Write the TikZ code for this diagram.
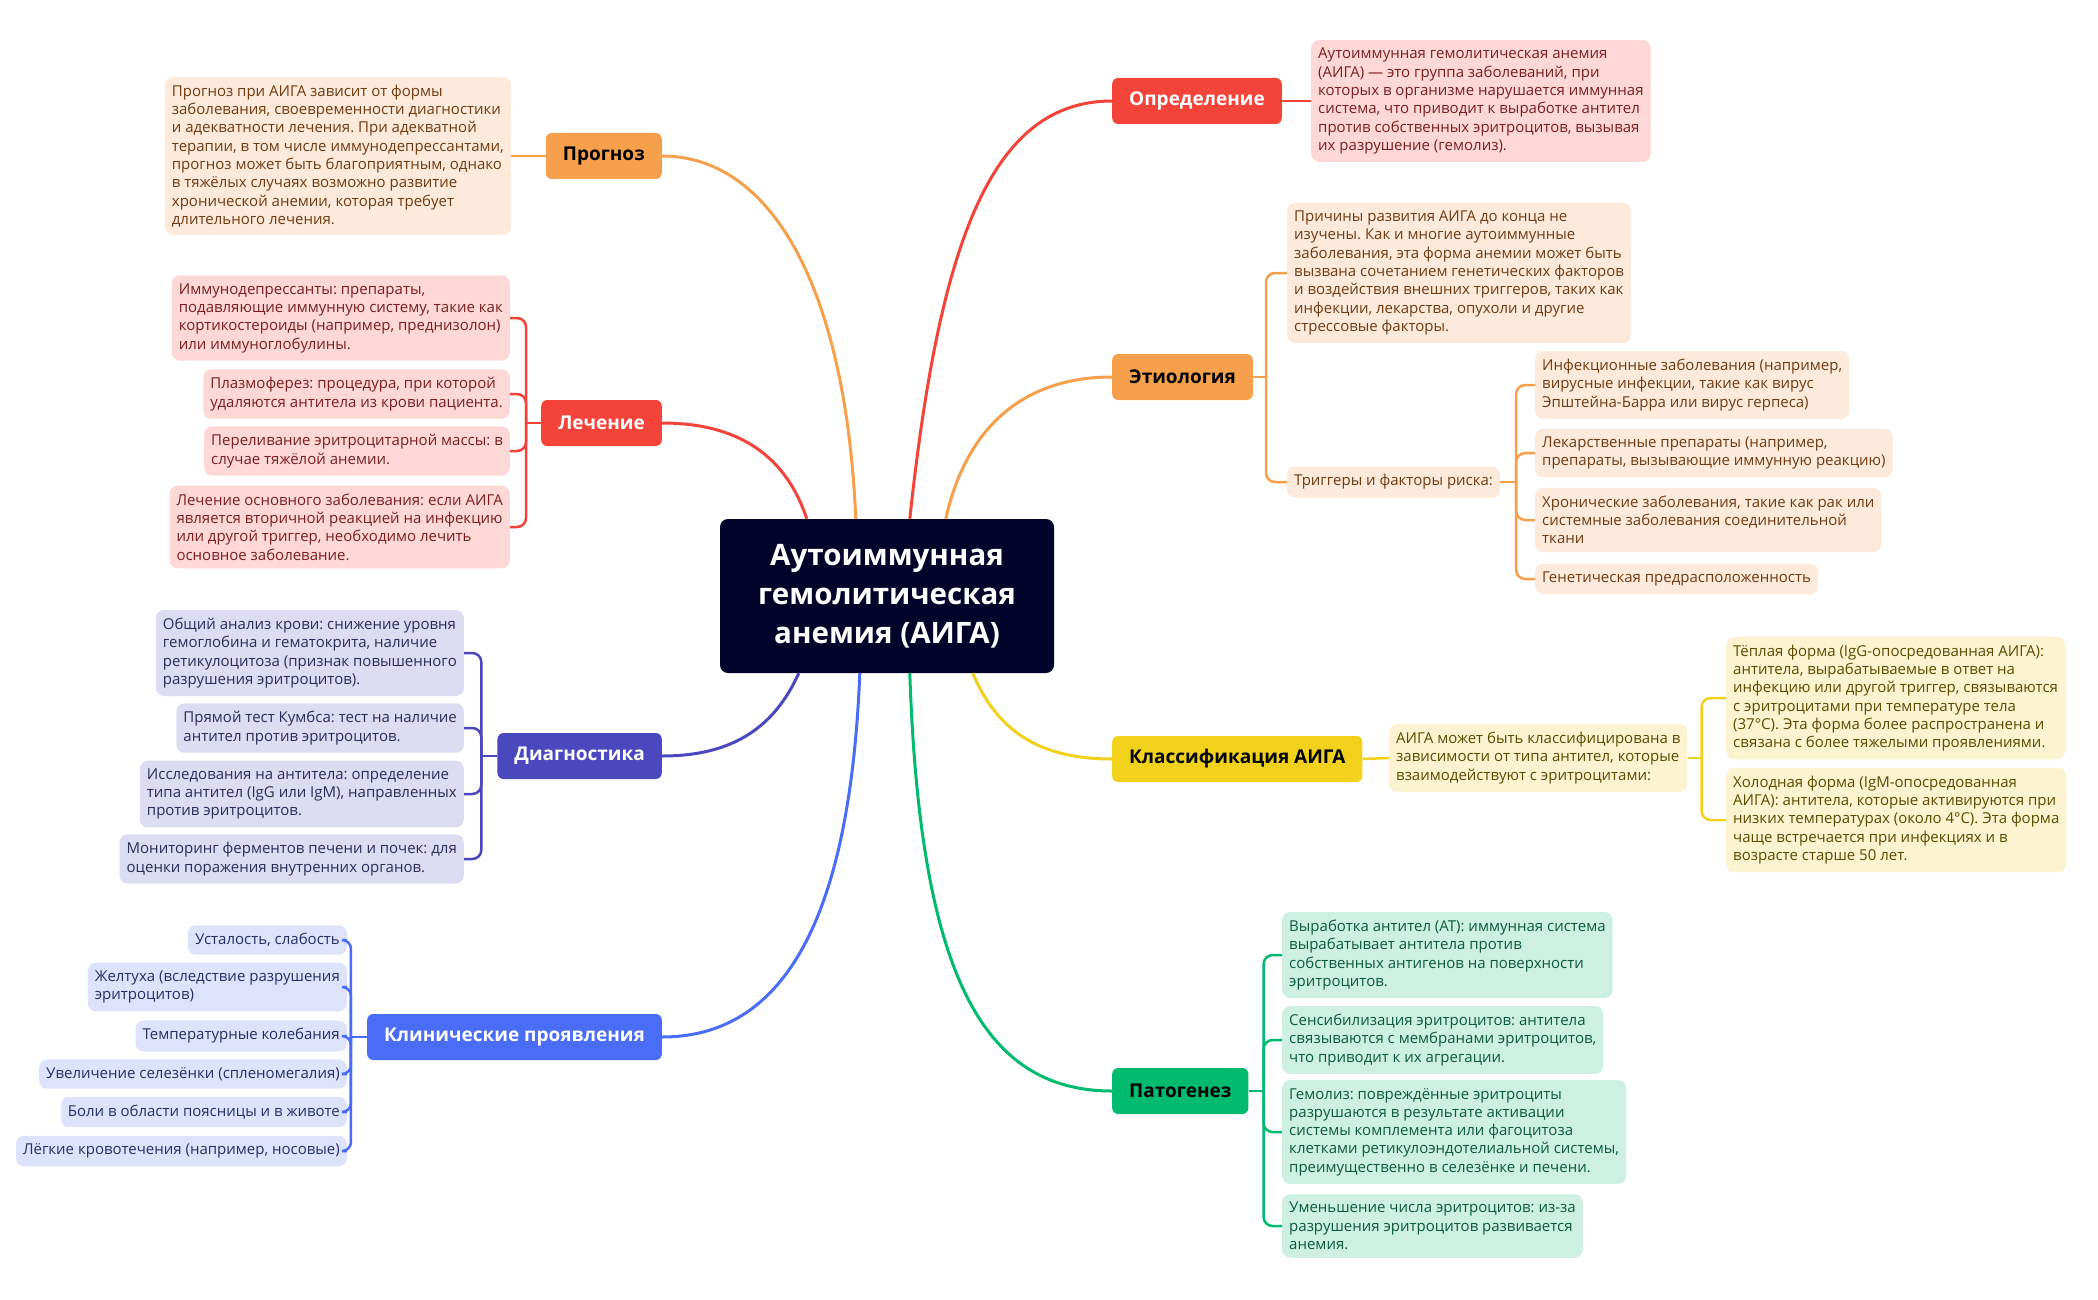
\documentclass[tikz,border=0pt]{standalone}
\usepackage{fontspec}
\setmainfont{Open Sans}
\usetikzlibrary{positioning,calc}
\frenchspacing

\definecolor{cRoot}{HTML}{04042B}
\definecolor{cRed}{HTML}{F4443A}
\definecolor{cOrange}{HTML}{F6A04B}
\definecolor{cIndigo}{HTML}{4B48BF}
\definecolor{cBlue}{HTML}{4A6DF8}
\definecolor{cGreen}{HTML}{00BA6F}
\definecolor{cYellow}{HTML}{F2D11C}
\definecolor{lRed}{HTML}{FDD8D7}
\definecolor{lOrange}{HTML}{FDEADB}
\definecolor{lIndigo}{HTML}{DCDCF2}
\definecolor{lBlue}{HTML}{DDE3FD}
\definecolor{lGreen}{HTML}{CDF0E2}
\definecolor{lYellow}{HTML}{FCF4D1}
\definecolor{tRed}{HTML}{7A1F1F}
\definecolor{tOrange}{HTML}{6E3B12}
\definecolor{tIndigo}{HTML}{2C2C5A}
\definecolor{tBlue}{HTML}{243063}
\definecolor{tGreen}{HTML}{0D5A3A}
\definecolor{tYellow}{HTML}{5C4A00}

\begin{document}
\begin{tikzpicture}[x=1pt,y=-1pt,
  topic/.style={rounded corners=6pt,inner xsep=17pt,minimum height=46pt,font=\fontsize{19}{22}\selectfont\bfseries},
  leaf/.style={rounded corners=8pt,inner xsep=7pt,inner ysep=8pt,align=left,font=\fontsize{15}{18.3}\selectfont},
  leafRed/.style={leaf,fill=lRed,text=tRed},
  leafOrange/.style={leaf,fill=lOrange,text=tOrange},
  leafIndigo/.style={leaf,fill=lIndigo,text=tIndigo},
  leafBlue/.style={leaf,fill=lBlue,text=tBlue},
  leafGreen/.style={leaf,fill=lGreen,text=tGreen},
  leafYellow/.style={leaf,fill=lYellow,text=tYellow},
  branch/.style={line width=2.5pt,rounded corners=9pt},
  stem/.style={line width=3pt}]
  \fill[white] (0,0) rectangle (2098,1300);
  \useasboundingbox (0,0) rectangle (2098,1300);

  % центральный узел
  \node[fill=cRoot,text=white,rounded corners=8pt,minimum width=334pt,minimum height=154pt,
        align=center,font=\fontsize{29.5}{39}\selectfont\bfseries] (root) at (887,596)
        {Аутоиммунная\\гемолитическая\\анемия (АИГА)};

  % темы справа
  \node[topic,fill=cRed,text=white,anchor=west] (def) at (1112,101) {Определение};
  \node[topic,fill=cOrange,text=black,anchor=west] (etio) at (1112,377) {Этиология};
  \node[topic,fill=cYellow,text=black,anchor=west] (cls) at (1112,759) {Классификация АИГА};
  \node[topic,fill=cGreen,text=black,anchor=west] (path) at (1112,1091) {Патогенез};
  % темы слева
  \node[topic,fill=cOrange,text=black,anchor=east] (prog) at (662,156) {Прогноз};
  \node[topic,fill=cRed,text=white,anchor=east] (treat) at (662,423) {Лечение};
  \node[topic,fill=cIndigo,text=white,anchor=east] (diag) at (662,756) {Диагностика};
  \node[topic,fill=cBlue,text=white,anchor=east] (clin) at (662,1037) {Клинические проявления};

  % ветви от центра
  \draw[stem,cRed] ($(root.north west)+(190,0)$) .. controls +(30,-280) and +(-120,0) .. (def.west);
  \draw[stem,cOrange] ($(root.north west)+(226,0)$) .. controls +(20,-90) and +(-90,0) .. (etio.west);
  \draw[stem,cYellow] ($(root.south west)+(253,0)$) .. controls +(25,60) and +(-70,0) .. (cls.west);
  \draw[stem,cGreen] ($(root.south west)+(190,0)$) .. controls +(10,300) and +(-130,0) .. (path.west);
  \draw[stem,cOrange] ($(root.north west)+(136,0)$) .. controls +(-10,-230) and +(110,0) .. (prog.east);
  \draw[stem,cRed] ($(root.north west)+(87,0)$) .. controls +(-20,-60) and +(80,0) .. (treat.east);
  \draw[stem,cIndigo] ($(root.south west)+(79,0)$) .. controls +(-25,55) and +(70,0) .. (diag.east);
  \draw[stem,cBlue] ($(root.south west)+(140,0)$) .. controls +(-10,250) and +(120,0) .. (clin.east);

  % Определение
  \node[leafRed,anchor=west] (defTxt) at (1311,101) {Аутоиммунная гемолитическая анемия\\(АИГА) — это группа заболеваний, при\\которых в организме нарушается иммунная\\система, что приводит к выработке антител\\против собственных эритроцитов, вызывая\\их разрушение (гемолиз).};
  \draw[branch,cRed] (def.east) -- (defTxt.west);

  % Прогноз
  \node[leafOrange,anchor=east] (progTxt) at (511,156) {Прогноз при АИГА зависит от формы\\заболевания, своевременности диагностики\\и адекватности лечения. При адекватной\\терапии, в том числе иммунодепрессантами,\\прогноз может быть благоприятным, однако\\в тяжёлых случаях возможно развитие\\хронической анемии, которая требует\\длительного лечения.};
  \draw[branch,cOrange] (prog.west) -- (progTxt.east);

  % Этиология
  \node[leafOrange,anchor=west] (etioTxt) at (1287,273) {Причины развития АИГА до конца не\\изучены. Как и многие аутоиммунные\\заболевания, эта форма анемии может быть\\вызвана сочетанием генетических факторов\\и воздействия внешних триггеров, таких как\\инфекции, лекарства, опухоли и другие\\стрессовые факторы.};
  \node[leafOrange,anchor=west] (trig) at (1287,482) {Триггеры и факторы риска:};
  \node[leafOrange,anchor=west] (trig1) at (1535,385) {Инфекционные заболевания (например,\\вирусные инфекции, такие как вирус\\Эпштейна-Барра или вирус герпеса)};
  \node[leafOrange,anchor=west] (trig2) at (1535,453) {Лекарственные препараты (например,\\препараты, вызывающие иммунную реакцию)};
  \node[leafOrange,anchor=west] (trig3) at (1535,520) {Хронические заболевания, такие как рак или\\системные заболевания соединительной\\ткани};
  \node[leafOrange,anchor=west] (trig4) at (1535,579) {Генетическая предрасположенность};
  \coordinate (etioS) at ($(etio.east)+(13,0)$);
  \draw[branch,cOrange] (etio.east) -- (etioS);
  \foreach \n in {etioTxt,trig} \draw[branch,cOrange] (etioS) |- (\n.west);
  \coordinate (trigS) at ($(trig.east)+(16,0)$);
  \draw[branch,cOrange] (trig.east) -- (trigS);
  \foreach \n in {1,...,4} \draw[branch,cOrange] (trigS) |- (trig\n.west);

  % Классификация
  \node[leafYellow,anchor=west] (clsTxt) at (1389,758) {АИГА может быть классифицирована в\\зависимости от типа антител, которые\\взаимодействуют с эритроцитами:};
  \node[leafYellow,anchor=west] (cls1) at (1726,698) {Тёплая форма (IgG-опосредованная АИГА):\\антитела, вырабатываемые в ответ на\\инфекцию или другой триггер, связываются\\с эритроцитами при температуре тела\\(37°C). Эта форма более распространена и\\связана с более тяжелыми проявлениями.};
  \node[leafYellow,anchor=west] (cls2) at (1726,820) {Холодная форма (IgM-опосредованная\\АИГА): антитела, которые активируются при\\низких температурах (около 4°C). Эта форма\\чаще встречается при инфекциях и в\\возрасте старше 50 лет.};
  \draw[branch,cYellow] (cls.east) -- (clsTxt.west);
  \coordinate (clsS) at ($(clsTxt.east)+(14,0)$);
  \draw[branch,cYellow] (clsTxt.east) -- (clsS);
  \foreach \n in {1,2} \draw[branch,cYellow] (clsS) |- (cls\n.west);

  % Патогенез
  \node[leafGreen,anchor=west] (path1) at (1282,955) {Выработка антител (АТ): иммунная система\\вырабатывает антитела против\\собственных антигенов на поверхности\\эритроцитов.};
  \node[leafGreen,anchor=west] (path2) at (1282,1040) {Сенсибилизация эритроцитов: антитела\\связываются с мембранами эритроцитов,\\что приводит к их агрегации.};
  \node[leafGreen,anchor=west] (path3) at (1282,1132) {Гемолиз: повреждённые эритроциты\\разрушаются в результате активации\\системы комплемента или фагоцитоза\\клетками ретикулоэндотелиальной системы,\\преимущественно в селезёнке и печени.};
  \node[leafGreen,anchor=west] (path4) at (1282,1226) {Уменьшение числа эритроцитов: из-за\\разрушения эритроцитов развивается\\анемия.};
  \coordinate (pathS) at ($(path.east)+(15,0)$);
  \draw[branch,cGreen] (path.east) -- (pathS);
  \foreach \n in {1,...,4} \draw[branch,cGreen] (pathS) |- (path\n.west);

  % Лечение
  \node[leafRed,anchor=east] (treat1) at (510,318) {Иммунодепрессанты: препараты,\\подавляющие иммунную систему, такие как\\кортикостероиды (например, преднизолон)\\или иммуноглобулины.};
  \node[leafRed,anchor=east] (treat2) at (510,394) {Плазмоферез: процедура, при которой\\удаляются антитела из крови пациента.};
  \node[leafRed,anchor=east] (treat3) at (510,451) {Переливание эритроцитарной массы: в\\случае тяжёлой анемии.};
  \node[leafRed,anchor=east] (treat4) at (510,527) {Лечение основного заболевания: если АИГА\\является вторичной реакцией на инфекцию\\или другой триггер, необходимо лечить\\основное заболевание.};
  \coordinate (treatS) at ($(treat.west)+(-15,0)$);
  \draw[branch,cRed] (treat.west) -- (treatS);
  \foreach \n in {1,...,4} \draw[branch,cRed] (treatS) |- (treat\n.east);

  % Диагностика
  \node[leafIndigo,anchor=east] (diag1) at (464,653) {Общий анализ крови: снижение уровня\\гемоглобина и гематокрита, наличие\\ретикулоцитоза (признак повышенного\\разрушения эритроцитов).};
  \node[leafIndigo,anchor=east] (diag2) at (464,728) {Прямой тест Кумбса: тест на наличие\\антител против эритроцитов.};
  \node[leafIndigo,anchor=east] (diag3) at (464,794) {Исследования на антитела: определение\\типа антител (IgG или IgM), направленных\\против эритроцитов.};
  \node[leafIndigo,anchor=east] (diag4) at (464,859) {Мониторинг ферментов печени и почек: для\\оценки поражения внутренних органов.};
  \coordinate (diagS) at ($(diag.west)+(-16,0)$);
  \draw[branch,cIndigo] (diag.west) -- (diagS);
  \foreach \n in {1,...,4} \draw[branch,cIndigo] (diagS) |- (diag\n.east);

  % Клинические проявления
  \node[leafBlue,anchor=east] (clin1) at (347,940) {Усталость, слабость};
  \node[leafBlue,anchor=east] (clin2) at (347,987) {Желтуха (вследствие разрушения\\эритроцитов)};
  \node[leafBlue,anchor=east] (clin3) at (347,1036) {Температурные колебания};
  \node[leafBlue,anchor=east] (clin4) at (347,1074) {Увеличение селезёнки (спленомегалия)};
  \node[leafBlue,anchor=east] (clin5) at (347,1112) {Боли в области поясницы и в животе};
  \node[leafBlue,anchor=east] (clin6) at (347,1151) {Лёгкие кровотечения (например, носовые)};
  \coordinate (clinS) at ($(clin.west)+(-16,0)$);
  \draw[branch,cBlue] (clin.west) -- (clinS);
  \foreach \n in {1,...,6} \draw[branch,cBlue] (clinS) |- (clin\n.east);
\end{tikzpicture}
\end{document}
